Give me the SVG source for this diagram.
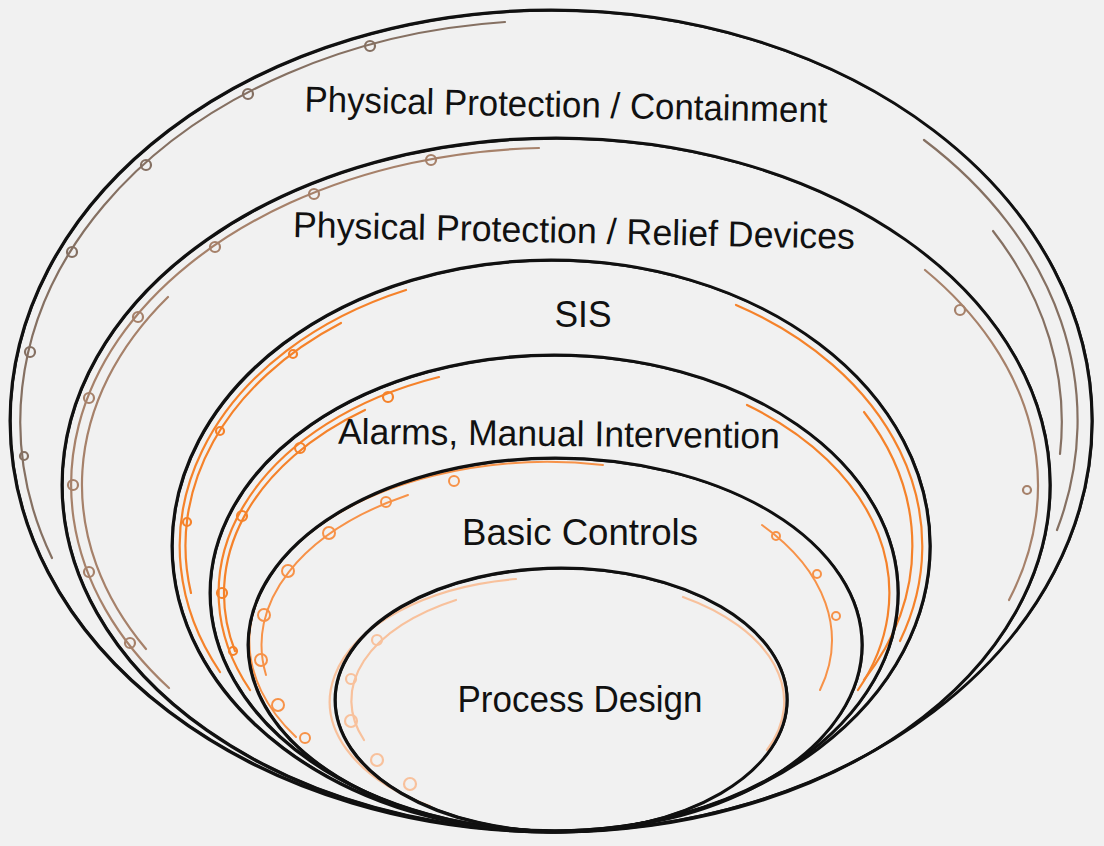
<svg xmlns="http://www.w3.org/2000/svg" width="1104" height="846" viewBox="0 0 1104 846">
<style>
.ring{fill:none;stroke:#111;stroke-width:3}
.ring2{fill:none;stroke:#111;stroke-width:1.4}
.lbl{font-family:"Liberation Sans","DejaVu Sans",sans-serif;font-size:36px;fill:#111;text-anchor:middle}
.brA{fill:none;stroke:#857062;stroke-width:2.2;stroke-linecap:round}
.brC{fill:none;stroke:#a6816a;stroke-width:2.2;stroke-linecap:round}
.or{fill:none;stroke:#f5822a;stroke-width:2.2;stroke-linecap:round}
.or2{fill:none;stroke:#f79248;stroke-width:2;stroke-linecap:round}
.pe{fill:none;stroke:#f8c19c;stroke-width:2.2;stroke-linecap:round}
</style>
<rect width="1104" height="846" fill="#f1f1f1"/>

<g id="decorations">
  <!-- outer ring brown -->
  <path class="brA" d="M505,22 A531,401 0 0 0 52,558"/>
  <path class="brA" d="M924,140 A527,397 0 0 1 1057,530"/>
  <path class="brA" d="M993,231 A511,381 0 0 1 1060,454"/>
  <g class="brA">
    <circle cx="370" cy="46" r="5"/><circle cx="248" cy="94" r="5"/><circle cx="146" cy="165" r="5"/>
    <circle cx="72" cy="252" r="5"/><circle cx="30" cy="352" r="5"/><circle cx="24" cy="456" r="4"/>
  </g>
  <!-- second ring brown -->
  <path class="brC" d="M539,148 A484,337 0 0 0 169,688"/>
  <path class="brC" d="M168,297 A474,327 0 0 0 146,649"/>
  <path class="brC" d="M925,270 A482,335 0 0 1 1009,600"/>
  <g class="brC">
    <circle cx="431" cy="160" r="5"/><circle cx="314" cy="194" r="5"/><circle cx="215" cy="247" r="5"/>
    <circle cx="138" cy="317" r="5"/><circle cx="89" cy="398" r="5"/><circle cx="73" cy="485" r="5"/>
    <circle cx="89" cy="572" r="5"/><circle cx="130" cy="643" r="5"/>
    <circle cx="960" cy="310" r="5"/><circle cx="1027" cy="490" r="4"/>
  </g>
  <!-- SIS ring orange -->
  <path class="or" d="M406,290 A371,278 0 0 0 220,672"/>
  <path class="or" d="M341,323 A365,272 0 0 0 191,593"/>
  <path class="or" d="M736,305 A371,278 0 0 1 900,641"/>
  <path class="or" d="M864,412 A361,268 0 0 1 864,680"/>
  <g class="or">
    <circle cx="293" cy="354" r="4"/><circle cx="220" cy="431" r="4"/><circle cx="187" cy="522" r="4"/>
  </g>
  <!-- Alarms ring orange -->
  <path class="or" d="M439,377 A336,230 0 0 0 250,690"/>
  <path class="or" d="M365,410 A330,224 0 0 0 235,651"/>
  <path class="or" d="M747,405 A336,230 0 0 1 858,690"/>
  <g class="or">
    <circle cx="388" cy="397" r="5"/><circle cx="300" cy="448" r="5"/><circle cx="242" cy="516" r="5"/>
    <circle cx="222" cy="593" r="5"/><circle cx="233" cy="651" r="4"/>
  </g>
  <!-- Basic ring orange -->
  <path class="or2" d="M603,465 A299,179 0 0 0 296,737"/>
  <path class="or2" d="M408,495 A293,173 0 0 0 266,675"/>
  <path class="or2" d="M762,525 A299,179 0 0 1 820,690"/>
  <g class="or2">
    <circle cx="454" cy="481" r="5"/><circle cx="386" cy="502" r="5"/><circle cx="329" cy="533" r="6"/>
    <circle cx="288" cy="571" r="6"/><circle cx="264" cy="615" r="6"/><circle cx="261" cy="660" r="6"/>
    <circle cx="278" cy="705" r="6"/><circle cx="305" cy="738" r="5"/>
    <circle cx="776" cy="536" r="4"/><circle cx="817" cy="574" r="4"/><circle cx="836" cy="616" r="4"/>
  </g>
  <!-- Process ring peach -->
  <path class="pe" d="M516,579 A218,124 0 0 0 430,806"/>
  <path class="pe" d="M456,600 A210,116 0 0 0 364,740"/>
  <path class="pe" d="M683,597 A218,124 0 0 1 767,750"/>
  <g class="pe">
    <circle cx="377" cy="640" r="5"/><circle cx="351" cy="679" r="5"/><circle cx="351" cy="721" r="6"/>
    <circle cx="377" cy="760" r="6"/><circle cx="410" cy="784" r="6"/>
  </g>
</g>

<g id="layer-containment">
  <ellipse class="ring" cx="551" cy="421" rx="541" ry="411"/>
  <ellipse class="ring2" cx="552" cy="421" rx="541" ry="410"/>
  <text class="lbl" x="566" y="117" textLength="523" lengthAdjust="spacingAndGlyphs" transform="rotate(1.2 566 105)">Physical Protection / Containment</text>
</g>
<g id="layer-relief">
  <ellipse class="ring" cx="556" cy="485" rx="494" ry="347"/>
  <ellipse class="ring2" cx="557" cy="485" rx="494" ry="346"/>
  <text class="lbl" x="574" y="243" textLength="562" lengthAdjust="spacingAndGlyphs" transform="rotate(1.2 574 230)">Physical Protection / Relief Devices</text>
</g>
<g id="layer-sis">
  <ellipse class="ring" cx="551" cy="546" rx="379" ry="286"/>
  <ellipse class="ring2" cx="552" cy="546" rx="379" ry="285"/>
  <text class="lbl" x="583" y="327" textLength="57" lengthAdjust="spacingAndGlyphs">SIS</text>
</g>
<g id="layer-alarms">
  <ellipse class="ring" cx="554" cy="593" rx="344" ry="238"/>
  <ellipse class="ring2" cx="555" cy="593" rx="344" ry="237"/>
  <text class="lbl" x="559" y="446" textLength="442" lengthAdjust="spacingAndGlyphs" transform="rotate(0.6 559 433)">Alarms, Manual Intervention</text>
</g>
<g id="layer-basic">
  <ellipse class="ring" cx="555" cy="645" rx="307" ry="187"/>
  <ellipse class="ring2" cx="556" cy="645" rx="307" ry="186"/>
  <text class="lbl" x="580" y="545" textLength="236" lengthAdjust="spacingAndGlyphs">Basic Controls</text>
</g>
<g id="layer-process">
  <ellipse class="ring" cx="561" cy="700" rx="226" ry="132"/>
  <ellipse class="ring2" cx="562" cy="700" rx="226" ry="131"/>
  <text class="lbl" x="580" y="712" textLength="245" lengthAdjust="spacingAndGlyphs">Process Design</text>
</g>
</svg>
